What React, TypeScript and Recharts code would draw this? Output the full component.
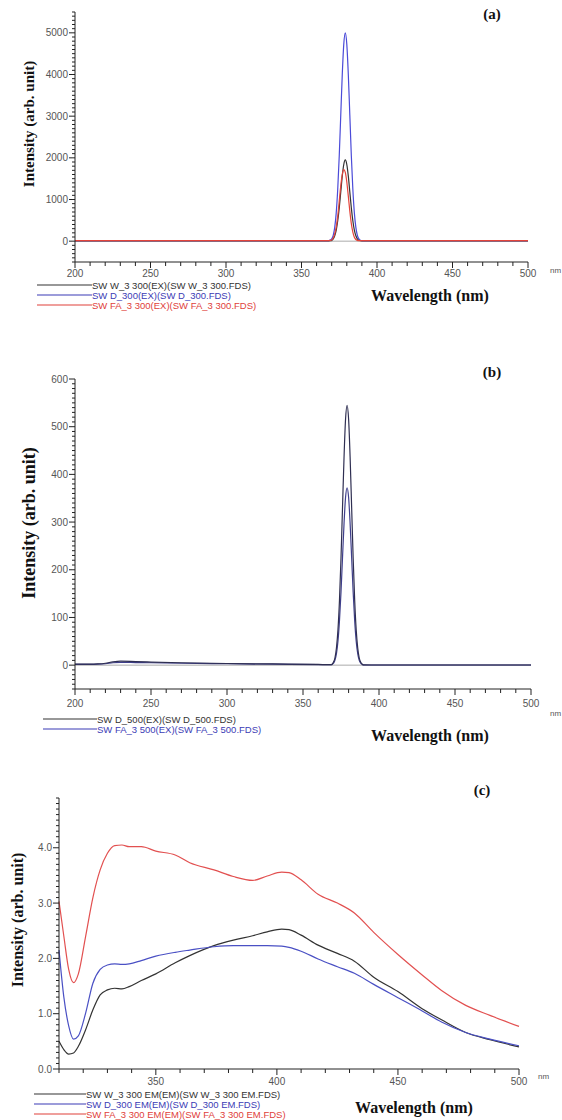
import React from 'react'
import { LineChart, Line, XAxis, YAxis, ReferenceLine } from 'recharts'

const SANS = '"Liberation Sans", Arial, sans-serif'
const SERIF = '"Liberation Serif", "Times New Roman", serif'

// (a) excitation spectra, 300
const waveA = [200, 230, 260, 290, 320, 350, 360, 366, 368, 369, 370, 371, 372, 373, 374, 375, 376, 377, 378, 379, 380, 381, 382, 383, 384, 385, 386, 387, 388, 389, 390, 392, 396, 420, 460, 500]
const exW3_300 = [8, 8, 8, 8, 8, 8, 8, 8, 9, 12, 20, 55, 130, 265, 490, 800, 1180, 1560, 1840, 1950, 1840, 1560, 1180, 800, 490, 265, 130, 55, 22, 12, 9, 8, 8, 8, 8, 8]
const exD_300 = [12, 12, 11, 11, 10, 10, 10, 12, 15, 25, 55, 140, 330, 680, 1250, 2050, 3030, 4000, 4730, 5000, 4730, 4000, 3030, 2050, 1250, 680, 330, 140, 55, 22, 12, 10, 10, 10, 10, 10]
const exFA3_300 = [14, 14, 13, 13, 12, 12, 12, 13, 15, 18, 30, 75, 175, 345, 600, 960, 1330, 1600, 1715, 1650, 1420, 1080, 720, 420, 215, 95, 40, 20, 14, 12, 12, 12, 12, 12, 12, 12]

// (b) excitation spectra, 500
const waveB = [200, 210, 215, 220, 225, 230, 240, 250, 270, 300, 330, 360, 368, 369, 370, 371, 372, 373, 374, 375, 376, 377, 378, 379, 380, 381, 382, 383, 384, 385, 386, 387, 388, 389, 390, 395, 420, 460, 500]
const exD_500 = [2, 2, 2.5, 4, 7, 8.5, 7.5, 6.5, 5, 3.5, 2.5, 1.5, 1, 1.5, 6, 15, 36, 74, 136, 224, 331, 436, 516, 545, 516, 436, 331, 224, 136, 74, 36, 15, 6, 2, 0.5, 0.3, 0.3, 0.3, 0.3]
const exFA3_500 = [1.5, 1.5, 2, 3, 5, 6, 5.5, 5, 4, 3, 2, 1.2, 0.8, 1.2, 4, 10, 24, 50, 93, 153, 226, 297, 352, 372, 352, 297, 226, 153, 93, 50, 24, 10, 4, 1.5, 0.3, 0.3, 0.3, 0.3, 0.3]

// (c) emission spectra, 300
const waveC = [310, 312, 314, 316, 318, 321, 324, 327, 330, 333, 336, 339, 344, 350, 358, 364, 374, 382, 390, 396, 402, 405, 410, 417, 425, 432, 440, 450, 460, 468, 478, 488, 500]
const emW3 = [0.5, 0.35, 0.27, 0.29, 0.41, 0.71, 1.07, 1.34, 1.43, 1.46, 1.45, 1.49, 1.6, 1.72, 1.92, 2.05, 2.23, 2.33, 2.41, 2.48, 2.53, 2.52, 2.42, 2.24, 2.09, 1.95, 1.66, 1.4, 1.09, 0.89, 0.66, 0.53, 0.4]
const emD300 = [2.15, 1.3, 0.78, 0.54, 0.6, 1.01, 1.55, 1.8, 1.88, 1.9, 1.89, 1.9, 1.96, 2.04, 2.11, 2.15, 2.21, 2.23, 2.23, 2.23, 2.22, 2.2, 2.13, 1.99, 1.85, 1.73, 1.53, 1.29, 1.05, 0.85, 0.66, 0.54, 0.42]
const emFA3 = [3.03, 2.4, 1.8, 1.56, 1.72, 2.4, 3.1, 3.6, 3.9, 4.04, 4.05, 4.02, 4.02, 3.94, 3.87, 3.73, 3.6, 3.48, 3.41, 3.49, 3.56, 3.55, 3.42, 3.16, 3.0, 2.82, 2.47, 2.07, 1.7, 1.42, 1.15, 0.97, 0.77]

// tick labels
const yLabelsA = [0, 1000, 2000, 3000, 4000, 5000]
const yLabelsB = [0, 100, 200, 300, 400, 500, 600]
const yLabelsC = [0, 1, 2, 3, 4]

const yTicksA = Array.from({ length: 61 }, (_, i) => -500 + 100 * i)
const yTicksB = Array.from({ length: 66 }, (_, i) => -50 + 10 * i)
const yTicksC = Array.from({ length: 50 }, (_, i) => i / 10)
const xTicksAB = Array.from({ length: 31 }, (_, i) => 200 + 10 * i)
const xTicksC = Array.from({ length: 20 }, (_, i) => 310 + 10 * i)

const rowsA = waveA.map((w, i) => ({ w, w3: exW3_300[i], d: exD_300[i], fa: exFA3_300[i] }))
const rowsB = waveB.map((w, i) => ({ w, d: exD_500[i], fa: exFA3_500[i] }))
const rowsC = waveC.map((w, i) => ({ w, w3: emW3[i], d: emD300[i], fa: emFA3[i] }))

const xTick = (labelDy: number) => (props: any) => {
  const { x, y, payload } = props
  const v = payload.value
  const major = v % 50 === 0
  return (
    <g>
      <line x1={x} x2={x} y1={y} y2={y + (major ? 6 : 4)} stroke="#222" />
      {major && (
        <text x={x} y={y + labelDy} textAnchor="middle" fontSize={10} fontFamily={SANS} fill="#555">
          {v}
        </text>
      )}
    </g>
  )
}

const yTick = (labels: number[], fmt: (v: number) => string) => (props: any) => {
  const { x, y, payload } = props
  const v = payload.value
  const major = labels.some((l) => Math.abs(l - v) < 1e-6)
  return (
    <g>
      <line x1={x - (major ? 6 : 3)} x2={x} y1={y} y2={y} stroke="#222" />
      {major && (
        <text x={x - 7} y={y} dy={3.5} textAnchor="end" fontSize={10} fontFamily={SANS} fill="#555">
          {fmt(v)}
        </text>
      )}
    </g>
  )
}

const abs = (left: number, top: number): React.CSSProperties => ({ position: 'absolute', left, top, whiteSpace: 'nowrap' })

function Title({ x, y, text, size = 15 }: { x: number; y: number; text: string; size?: number }) {
  return (
    <div style={{ ...abs(x, y), transform: 'translate(-50%, -50%)', fontFamily: SERIF, fontWeight: 'bold', fontSize: size, color: '#111' }}>
      {text}
    </div>
  )
}

function YTitle({ x, y, size }: { x: number; y: number; size: number }) {
  return (
    <div style={{ ...abs(x, y), transform: 'translate(-50%, -50%) rotate(-90deg)', fontFamily: SERIF, fontWeight: 'bold', fontSize: size, color: '#111' }}>
      Intensity (arb. unit)
    </div>
  )
}

function LegendRow({ x, y, len, color, text }: { x: number; y: number; len: number; color: string; text: string }) {
  return (
    <div style={{ ...abs(x, y), transform: 'translateY(-50%)', display: 'flex', alignItems: 'center', fontFamily: SANS, fontSize: 9.5, color, lineHeight: '9px' }}>
      <span style={{ display: 'inline-block', width: len, height: 1, background: color }} />
      <span>{text}</span>
    </div>
  )
}

function Nm({ x, y }: { x: number; y: number }) {
  return <div style={{ ...abs(x, y), transform: 'translateY(-50%)', fontFamily: SANS, fontSize: 8, color: '#555' }}>nm</div>
}

export default function App() {
  return (
    <div style={{ position: 'absolute', left: 0, top: 0, width: 562, height: 1120, background: '#fff', overflow: 'hidden' }}>
      {/* (a) */}
      <div style={{ position: 'absolute', left: 0, top: 0 }}>
        <LineChart width={562} height={320} data={rowsA} margin={{ top: 12, right: 34, left: 35, bottom: 28 }}>
          <XAxis dataKey="w" type="number" domain={[200, 500]} ticks={xTicksAB} interval={0} tickSize={0} tickMargin={0} height={30} stroke="#222" tick={xTick(15)} />
          <YAxis type="number" domain={[-500, 5500]} ticks={yTicksA} interval={0} tickSize={0} tickMargin={0} width={40} stroke="#222" tick={yTick(yLabelsA, (v) => String(v))} />
          <ReferenceLine y={0} stroke="#aaa" />
          <Line dataKey="w3" type="monotone" stroke="#333" strokeWidth={1.2} dot={false} isAnimationActive={false} />
          <Line dataKey="d" type="monotone" stroke="#4b4bd8" strokeWidth={1.2} dot={false} isAnimationActive={false} />
          <Line dataKey="fa" type="monotone" stroke="#e4433a" strokeWidth={1.2} dot={false} isAnimationActive={false} />
        </LineChart>
      </div>
      <Title x={492} y={14} text="(a)" />
      <YTitle x={29} y={124} size={15} />
      <Title x={430} y={296} text="Wavelength (nm)" size={16} />
      <Nm x={550} y={270} />
      <LegendRow x={37} y={285} len={55} color="#333" text="SW W_3 300(EX)(SW W_3 300.FDS)" />
      <LegendRow x={37} y={295} len={55} color="#3b3bb5" text="SW D_300(EX)(SW D_300.FDS)" />
      <LegendRow x={37} y={305} len={55} color="#e0403a" text="SW FA_3 300(EX)(SW FA_3 300.FDS)" />

      {/* (b) */}
      <div style={{ position: 'absolute', left: 0, top: 330 }}>
        <LineChart width={562} height={400} data={rowsB} margin={{ top: 49, right: 31, left: 35, bottom: 11 }}>
          <XAxis dataKey="w" type="number" domain={[200, 500]} ticks={xTicksAB} interval={0} tickSize={0} tickMargin={0} height={30} stroke="#222" tick={xTick(18)} />
          <YAxis type="number" domain={[-50, 600]} ticks={yTicksB} interval={0} tickSize={0} tickMargin={0} width={40} stroke="#222" tick={yTick(yLabelsB, (v) => String(v))} />
          <ReferenceLine y={0} stroke="#aaa" />
          <Line dataKey="fa" type="monotone" stroke="#3f3f8c" strokeWidth={1.2} dot={false} isAnimationActive={false} />
          <Line dataKey="d" type="monotone" stroke="#2f2f52" strokeWidth={1.2} dot={false} isAnimationActive={false} />
        </LineChart>
      </div>
      <Title x={492} y={372} text="(b)" />
      <YTitle x={29} y={523} size={18} />
      <Title x={430} y={736} text="Wavelength (nm)" size={16} />
      <Nm x={550} y={713} />
      <LegendRow x={43} y={719} len={54} color="#333" text="SW D_500(EX)(SW D_500.FDS)" />
      <LegendRow x={43} y={729} len={54} color="#3b3bb5" text="SW FA_3 500(EX)(SW FA_3 500.FDS)" />

      {/* (c) */}
      <div style={{ position: 'absolute', left: 0, top: 730 }}>
        <LineChart width={562} height={390} data={rowsC} margin={{ top: 68, right: 43, left: 19, bottom: 21 }}>
          <XAxis dataKey="w" type="number" domain={[310, 500]} ticks={xTicksC} interval={0} tickSize={0} tickMargin={0} height={30} stroke="#222" tick={xTick(16)} />
          <YAxis type="number" domain={[0, 4.9]} ticks={yTicksC} interval={0} tickSize={0} tickMargin={0} width={40} stroke="#222" tick={yTick(yLabelsC, (v) => v.toFixed(1))} />
          <Line dataKey="w3" type="monotone" stroke="#333" strokeWidth={1.2} dot={false} isAnimationActive={false} />
          <Line dataKey="d" type="monotone" stroke="#4a50c4" strokeWidth={1.2} dot={false} isAnimationActive={false} />
          <Line dataKey="fa" type="monotone" stroke="#e25050" strokeWidth={1.2} dot={false} isAnimationActive={false} />
        </LineChart>
      </div>
      <Title x={482} y={790} text="(c)" />
      <YTitle x={18} y={920} size={16} />
      <Title x={414} y={1108} text="Wavelength (nm)" size={16} />
      <Nm x={538} y={1076} />
      <LegendRow x={34} y={1094} len={52} color="#333" text="SW W_3 300 EM(EM)(SW W_3 300 EM.FDS)" />
      <LegendRow x={34} y={1104} len={52} color="#3b3bb5" text="SW D_300 EM(EM)(SW D_300 EM.FDS)" />
      <LegendRow x={34} y={1114} len={52} color="#e0403a" text="SW FA_3 300 EM(EM)(SW FA_3 300 EM.FDS)" />
    </div>
  )
}
